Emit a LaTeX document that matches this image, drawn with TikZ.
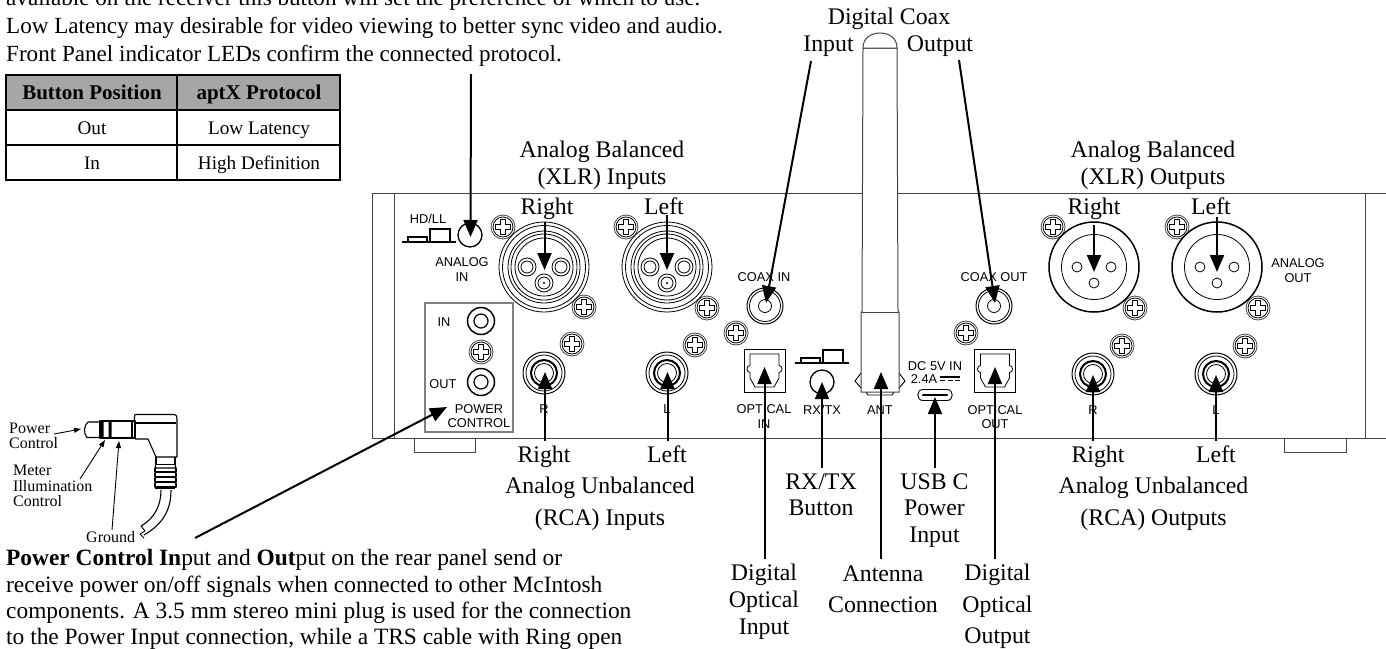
\documentclass[tikz,border=0pt]{standalone}
\usepackage{fontspec}
\setmainfont{Liberation Serif}
\newfontfamily\arialf{Liberation Sans}
\usetikzlibrary{arrows.meta}
\definecolor{panelline}{HTML}{444444}
\definecolor{hdrgray}{HTML}{A6A6A6}
\definecolor{boxgray}{HTML}{808080}
\tikzset{
 lbl/.style={inner sep=0pt,anchor=base,font=\fontsize{23.8}{28}\selectfont,text=black},
 para/.style={inner sep=0pt,anchor=base west,font=\fontsize{23.1}{28}\selectfont},
 parb/.style={inner sep=0pt,anchor=base west,font=\fontsize{23.4}{28}\selectfont},
 arl/.style={inner sep=0pt,font=\arialf\fontsize{12.8}{14.2}\selectfont,align=center},
 smlbl/.style={inner sep=0pt,anchor=base west,font=\fontsize{16}{16.2}\selectfont},
 hdr/.style={inner sep=0pt,anchor=base,font=\bfseries\fontsize{21}{22}\selectfont},
 cell/.style={inner sep=0pt,anchor=base,font=\fontsize{19.2}{20}\selectfont},
 callout/.style={line width=2pt,draw=black,-{Triangle[length=17pt,width=14pt]}},
 calloutb/.style={line width=1.6pt,draw=black,-{Triangle[length=17pt,width=14pt]}},
 thinarrow/.style={line width=0.9pt,draw=black,-{Triangle[length=7pt,width=5pt]}},
 pl/.style={line width=1pt,draw=panelline},
 hw/.style={line width=0.8pt,draw=black},
 hwb/.style={line width=1.5pt,draw=black},
 plug/.style={line width=1.1pt,draw=black,line join=round},
}
\newcommand\screw[2]{\begin{scope}[shift={(#1,#2)}]
 \draw[hw,draw=panelline] (0,0) circle[radius=12pt];
 \draw[hw] (0,0) circle[radius=10pt];
 \draw[hw] (-2.5,-7.5)--(2.5,-7.5)--(2.5,-2.5)--(7.5,-2.5)--(7.5,2.5)--(2.5,2.5)--(2.5,7.5)--(-2.5,7.5)--(-2.5,2.5)--(-7.5,2.5)--(-7.5,-2.5)--(-2.5,-2.5)--cycle;
\end{scope}}
\newcommand\xlrin[2]{\begin{scope}[shift={(#1,#2)}]
 \foreach \r in {45,41.5,36,33,29}{\draw[hw] (0,0) circle[radius=\r pt];}
 \foreach \p/\q in {-17/0,17/0,0/16}{\draw[hw] (\p,\q) circle[radius=9pt]; \draw[hw] (\p,\q) circle[radius=6pt];}
 \fill (0,16) circle[radius=1.2pt];
\end{scope}}
\newcommand\xlrout[2]{\begin{scope}[shift={(#1,#2)}]
 \draw[hwb] (0,0) circle[radius=45pt];
 \draw[hw] (0,0) circle[radius=32.5pt];
 \foreach \p/\q in {-17/0,17/0,0/16}{\draw[hw] (\p,\q) circle[radius=5pt];}
\end{scope}}
\newcommand\rca[2]{\begin{scope}[shift={(#1,#2)}]
 \draw[hwb,line width=1pt] (0,0) circle[radius=21pt];
 \draw[hw] (0,0) circle[radius=18pt];
 \draw[line width=2pt] (0,0) circle[radius=13pt];
 \draw[hw] (0,0) circle[radius=9.5pt];
\end{scope}}
\newcommand\coax[2]{\begin{scope}[shift={(#1,#2)}]
 \draw[line width=1pt] (0,0) circle[radius=18pt];
 \draw[hw] (0,0) circle[radius=15.5pt];
 \draw[hw] (0,0) circle[radius=6.5pt];
\end{scope}}
\newcommand\optical[1]{\begin{scope}[shift={(#1,370.5)}]
 \draw[hw] (-20.5,-21.5) rectangle (20.5,21.5);
 \draw[hw] (-14.5,-16.5)--(14.5,-16.5)--(14.5,-5) .. controls (18.5,-5) and (18.5,2) .. (14.5,2)--(14.5,7.5)--(9.5,16.5)--(-9.5,16.5)--(-14.5,7.5)--(-14.5,2) .. controls (-18.5,2) and (-18.5,-5) .. (-14.5,-5)--cycle;
\end{scope}}
\newcommand\switch[2]{\begin{scope}[shift={(#1,#2)}]
 \draw[line width=1.6pt] (0,0)--(54,0);
 \draw[line width=1.1pt] (6,0) rectangle (25,-5);
 \draw[line width=1.1pt] (28,0) rectangle (48,-13);
\end{scope}}
\begin{document}
\begin{tikzpicture}[x=1pt,y=-1pt]
\useasboundingbox (0,0) rectangle (1386,648);
\clip (0,0) rectangle (1386,648);
\fill[white] (0,0) rectangle (1386,648);
% top text
\node[para] (t0) at (6,5) {available on the receiver this button will set the preference of which to use.};
\node[para] (t1) at (6,33) {Low Latency may desirable for video viewing to better sync video and audio.};
\node[para] (t2) at (6,61) {Front Panel indicator LEDs confirm the connected protocol.};
% table
\fill[hdrgray] (6,75) rectangle (340,110);
\draw[line width=2.2pt] (6,75) rectangle (340,180) (177,75)--(177,180) (6,110)--(340,110) (6,145)--(340,145);
\node[hdr] (h1) at (92,99.5) {Button Position};
\node[hdr] (h2) at (259,99.5) {aptX Protocol};
\node[cell] (c1) at (92,134) {Out};
\node[cell] (c2) at (259,134) {Low Latency};
\node[cell] (c3) at (92,169) {In};
\node[cell] (c4) at (259,169) {High Definition};
% feet
\draw[pl] (414,438) rectangle (475,452);
\draw[pl] (1284,438) rectangle (1346,452);
% panel
\draw[pl] (1386,193.5)--(372,193.5)--(372,438)--(1386,438);
\draw[pl] (394.5,193.5)--(394.5,438);
\draw[pl] (1365,193.5)--(1365,438);
% hardware
\foreach \x/\y in {503/227,626/227,584/307,707/308,572/344,695/345,481/352,736/333,966/333,1053/227,1177/227,1135/308,1258/308,1122/346,1245/346}{\screw{\x}{\y}}
\xlrin{544}{267}\xlrin{667}{267}
\xlrout{1094}{267}\xlrout{1217}{267}
\rca{544}{373}\rca{667}{373}\rca{1093}{374}\rca{1216}{374}
\coax{765}{306}\coax{994}{306}
\optical{764.5}\optical{995}
\switch{402}{242}\switch{795}{363}
\draw[line width=1.3pt] (470,235) circle[radius=12pt];
\draw[line width=1.3pt] (822,382) circle[radius=12pt];
% power box
\draw[line width=2pt,draw=boxgray] (425,303) rectangle (513,432);
\foreach \y in {321,382}{\draw[line width=1.5pt] (481,\y) circle[radius=13.5pt]; \draw[line width=1.2pt] (481,\y) circle[radius=7pt];}
% USB
\draw[line width=0.9pt] (923,389.5) -- (947,389.5) .. controls (954,389.5) and (954,400.5) .. (947,400.5) -- (923,400.5) .. controls (916,400.5) and (916,389.5) .. (923,389.5) -- cycle;
\draw[line width=2.4pt,line cap=round] (923,395)--(947,395);
% DC symbol
\draw[line width=1.2pt] (940,377)--(960,377);
\draw[line width=1.2pt] (940,380.5)--(945,380.5) (947.5,380.5)--(952.5,380.5) (955,380.5)--(960,380.5);
% Arial labels
\node[arl] (a1) at (428,219) {HD/LL};
\node[arl] (a2) at (462,269.5) {ANALOG\\IN};
\node[arl] (a3) at (444,322) {IN};
\node[arl] (a4) at (443,384) {OUT};
\node[arl] (a5) at (479,416) {POWER\\CONTROL};
\node[arl] (a6) at (544,409) {R};
\node[arl] (a7) at (667,409) {L};
\node[arl] (a8) at (764,277) {COAX IN};
\node[arl] (a9) at (994,277) {COAX OUT};
\node[arl] (a10) at (764,416.5) {OPTICAL\\IN};
\node[arl] (a11) at (822,410) {RX/TX};
\node[arl] (a12) at (880,410) {ANT};
\node[arl] (a13) at (935,366) {DC 5V IN};
\node[arl] (a14) at (924,379) {2.4A};
\node[arl] (a15) at (995,417) {OPTICAL\\OUT};
\node[arl] (a16) at (1298,270.5) {ANALOG\\OUT};
\node[arl] (a17) at (1093,410) {R};
\node[arl] (a18) at (1216,410) {L};
% antenna
\draw[line width=0.9pt] (861,373)--(855,381)--(861,388) (899,373)--(905,381)--(899,388);
\draw[line width=0.9pt] (866,392)--(868,395)--(892,395)--(894,392);
\draw[pl,line width=1pt,fill=white] (861,392)--(861,312)--(862,312)--(863,48)--(897,48)--(898,312)--(899,312)--(899,392)--cycle;
\draw[pl,fill=white] (863,48) .. controls (863,38) and (871,33) .. (880,33) .. controls (889,33) and (897,38) .. (897,48) -- cycle;
\draw[pl] (861,312)--(899,312);
% plug
\draw[plug] (101,422)--(88,422) .. controls (84,425) and (83,433) .. (87,437.5)--(101,437.5);
\draw[plug] (100,421) rectangle (133,438);
\fill (101,421) rectangle (103.5,438) (108.5,421) rectangle (111.5,438);
\draw[plug,fill=white] (132,421) rectangle (135,438);
\draw[plug] (135,414.5)--(174,414.5) .. controls (176,414.5) and (177,416) .. (177,418)--(177,457)--(156,457)--(148,439)--(135,439);
\draw[plug] (134.5,421) -- (134.5,416) -- (135,414.5);
\draw[plug] (135,423)--(176,423);
\draw[plug] (156,457)--(156,464.5)--(175,464.5)--(175,457);
\draw[plug] (156,464.5)--(155,468)--(176,468)--(175,464.5);
\foreach \y in {468,473,478,483}{\draw[plug] (155,\y)--(155,\y+4)--(176,\y+4)--(176,\y);}
\draw[plug] (155,488)--(175,488);
\draw[plug] (161,490) .. controls (161,505) and (155,518) .. (141,526);
\draw[plug] (171,490) .. controls (171,510) and (163,524) .. (144,535);
\draw[plug,line width=0.9pt] (141,526) -- (145,531) -- (140,534) -- (144,538);
\node[smlbl] (p1) at (9,433) {Power};
\node[smlbl] (p1b) at (9,448) {Control};
\node[smlbl] (p2) at (13,475) {Meter};
\node[smlbl] (p2b) at (13,491) {Illumination};
\node[smlbl] (p2c) at (13,506) {Control};
\node[smlbl] (p3) at (86,542) {Ground};
\draw[thinarrow] (54,434)--(81,429);
\draw[thinarrow] (80,479)--(105,440);
\draw[thinarrow] (112,530)--(119,441);
% serif labels
\node[lbl] (l1) at (889,24) {Digital Coax};
\node[lbl] (l2) at (828.5,51) {Input};
\node[lbl] (l3) at (940,51) {Output};
\node[lbl] (l4) at (602,157) {Analog Balanced};
\node[lbl] (l5) at (602,184) {(XLR) Inputs};
\node[lbl] (l6) at (547,214.5) {Right};
\node[lbl] (l7) at (664,214.5) {Left};
\node[lbl] (l8) at (1153,157) {Analog Balanced};
\node[lbl] (l9) at (1153,184) {(XLR) Outputs};
\node[lbl] (l10) at (1094,214.5) {Right};
\node[lbl] (l11) at (1211,214.5) {Left};
\node[lbl] (l12) at (544,462) {Right};
\node[lbl] (l13) at (667,462) {Left};
\node[lbl] (l14) at (600,493) {Analog Unbalanced};
\node[lbl] (l15) at (600,525) {(RCA) Inputs};
\node[lbl] (l16) at (1098,462) {Right};
\node[lbl] (l17) at (1216,462) {Left};
\node[lbl] (l18) at (1153.5,493) {Analog Unbalanced};
\node[lbl] (l19) at (1153.5,525) {(RCA) Outputs};
\node[lbl] (l20) at (821,489) {RX/TX};
\node[lbl] (l21) at (821,515) {Button};
\node[lbl] (l22) at (934.5,489) {USB C};
\node[lbl] (l23) at (934.5,515) {Power};
\node[lbl] (l24) at (934.5,542) {Input};
\node[lbl] (l25) at (764,580) {Digital};
\node[lbl] (l26) at (764,607) {Optical};
\node[lbl] (l27) at (764,634) {Input};
\node[lbl] (l28) at (883,581) {Antenna};
\node[lbl] (l29) at (883,612) {Connection};
\node[lbl] (l30) at (997.5,580) {Digital};
\node[lbl] (l31) at (997.5,612) {Optical};
\node[lbl] (l32) at (997.5,643) {Output};
% bottom text
\node[parb] (b1) at (6,565) {\textbf{Power Control In}put and \textbf{Out}put on the rear panel send or};
\node[parb] (b2) at (6,592) {receive power on/off signals when connected to other McIntosh};
\node[parb] (b3) at (6,618) {components. A 3.5 mm stereo mini plug is used for the connection};
\node[parb] (b4) at (6,644) {to the Power Input connection, while a TRS cable with Ring open};
% callouts
\foreach \n/\a/\b/\c/\d in {
 btn/471/74/470.5/237, xr/544.5/222/544.5/270, xl/667/215/667/270,
 rr/545/441/545/372, rl/667.5/441/667.5/372,
 pc/195/538/447/407, ci/811/61/766/303, co/959/60/995/303,
 oi/764.5/559/764.5/367, an/881/559/881/372, oo/995/559/995/367,
 xor/1094/225/1094/272, xol/1217/217/1217/272,
 ror/1093/441/1093/375, rol/1216/441/1216/375}{
 \coordinate (s\n) at (\a,\b);
 \coordinate (e\n) at (\c,\d);
 \draw[callout] (s\n)--(e\n);
}
\foreach \n/\a/\b/\c/\d in {rx/822/468/822/382, us/935/468/935/397}{
 \coordinate (s\n) at (\a,\b);
 \coordinate (e\n) at (\c,\d);
 \draw[calloutb] (s\n)--(e\n);
}
\end{tikzpicture}
\end{document}
